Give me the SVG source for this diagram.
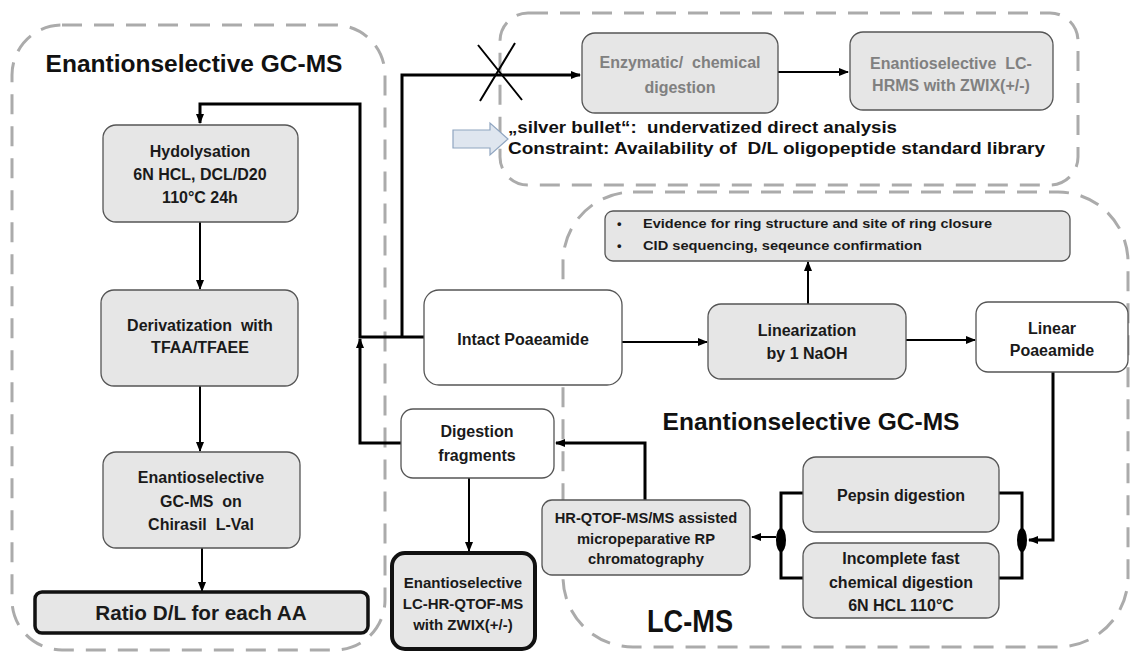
<svg xmlns="http://www.w3.org/2000/svg" width="1130" height="652" viewBox="0 0 1130 652">
<style>
text{font-family:"Liberation Sans",Arial,sans-serif;font-weight:bold;fill:#1a1a1a;text-anchor:middle;white-space:pre}
.cont{fill:none;stroke:#ababab;stroke-width:3;stroke-dasharray:20 12}
.gbox{fill:#e6e6e6;stroke:#555;stroke-width:1.3}
.wbox{fill:#fff;stroke:#555;stroke-width:1.3}
.tbox{fill:#e6e6e6;stroke:#111;stroke-width:4}
.t{font-size:16px}
.gt{font-size:16px;fill:#808080}
.title{font-size:24.5px;fill:#111}
.ln{fill:none;stroke:#000;stroke-width:3}
.lt{fill:none;stroke:#000;stroke-width:2}
.bul{font-size:13px;text-anchor:start}
.sb{font-size:17px;text-anchor:start;fill:#111}
</style>
<defs>
<marker id="ah" markerUnits="userSpaceOnUse" markerWidth="10" markerHeight="10" viewBox="0 0 10 10" refX="9" refY="5" orient="auto">
<path d="M0,1 L10,5 L0,9 Z" fill="#000"/>
</marker>
</defs>

<g id="containers">
<rect id="c-gcms" class="cont" x="12" y="25" width="373" height="625" rx="50"/>
<rect id="c-top" class="cont" x="500" y="13" width="578" height="172" rx="28"/>
<rect id="c-lcms" class="cont" x="563" y="192" width="565" height="455" rx="70"/>
</g>

<g id="labels">
<text class="title" x="194" y="72">Enantionselective GC-MS</text>
<text class="title" x="811" y="430">Enantionselective GC-MS</text>
<text x="690" y="632" style="font-size:32px;fill:#111" textLength="86" lengthAdjust="spacingAndGlyphs">LC-MS</text>
<text class="sb" x="508" y="133" textLength="389" lengthAdjust="spacingAndGlyphs">„silver bullet“:  undervatized direct analysis</text>
<text class="sb" x="508" y="154" textLength="537" lengthAdjust="spacingAndGlyphs">Constraint: Availability of  D/L oligopeptide standard library</text>
<polygon points="453,130 490,130 490,123 508,139 490,155 490,148 453,148" fill="#dfe6ef" stroke="#8fa5c0" stroke-width="1.2"/>
</g>

<g id="connectors">
<path class="ln" d="M424,337 L360,337 L360,104 L200,104 L200,123" marker-end="url(#ah)"/>
<path class="ln" d="M401,443 L360,443 L360,339" marker-end="url(#ah)"/>
<path class="ln" d="M402,337 L402,75 L580,75" marker-end="url(#ah)"/>
<path class="lt" d="M478,45 L522,100 M515,43 L480,101"/>
<path class="lt" d="M778,72 L848,72" marker-end="url(#ah)"/>
<path class="lt" d="M200,222 L200,289" marker-end="url(#ah)"/>
<path class="lt" d="M200,386 L200,451" marker-end="url(#ah)"/>
<path class="lt" d="M202,548 L202,591" marker-end="url(#ah)"/>
<path class="lt" d="M622,342 L707,342" marker-end="url(#ah)"/>
<path class="lt" d="M808,304 L808,262" marker-end="url(#ah)"/>
<path class="lt" d="M906,340 L975,340" marker-end="url(#ah)"/>
<path class="ln" d="M1053,372 L1053,540 L1029,540" marker-end="url(#ah)"/>
<path class="ln" d="M999,493 L1022,493 L1022,578 L999,578"/>
<path class="ln" d="M803,493 L781,493 L781,578 L803,578"/>
<ellipse cx="1022" cy="540" rx="5" ry="12" fill="#000"/>
<ellipse cx="781" cy="540" rx="5" ry="12" fill="#000"/>
<path class="lt" d="M776,537 L752,537" marker-end="url(#ah)"/>
<path class="ln" d="M645,500 L645,443 L556,443" marker-end="url(#ah)"/>
<path class="lt" d="M469,478 L469,551" marker-end="url(#ah)"/>
</g>

<g id="n-hydolysation">
<rect class="gbox" x="103" y="125" width="195" height="97" rx="13"/>
<text class="t" x="200" y="157">Hydolysation</text>
<text class="t" x="200" y="180">6N HCL, DCL/D20</text>
<text class="t" x="200" y="203">110°C 24h</text>
</g>
<g id="n-derivatization">
<rect class="gbox" x="101" y="290" width="197" height="96" rx="13"/>
<text class="t" x="200" y="331">Derivatization  with</text>
<text class="t" x="200" y="353">TFAA/TFAEE</text>
</g>
<g id="n-gcms-chirasil">
<rect class="gbox" x="103" y="452" width="197" height="96" rx="13"/>
<text class="t" x="201" y="483">Enantioselective</text>
<text class="t" x="201" y="507">GC-MS  on</text>
<text class="t" x="201" y="530">Chirasil  L-Val</text>
</g>
<g id="n-ratio">
<rect class="gbox" x="35" y="592" width="333" height="41" rx="7" style="stroke:#111;stroke-width:3.5"/>
<text x="201" y="620" style="font-size:20.7px">Ratio D/L for each AA</text>
</g>
<g id="n-enzymatic">
<rect class="gbox" x="582" y="33" width="196" height="80" rx="13"/>
<text class="gt" x="680" y="68">Enzymatic/  chemical</text>
<text class="gt" x="680" y="93">digestion</text>
</g>
<g id="n-lchrms">
<rect class="gbox" x="850" y="32" width="203" height="78" rx="13"/>
<text class="gt" x="951" y="69">Enantioselective  LC-</text>
<text class="gt" x="951" y="91">HRMS with ZWIX(+/-)</text>
</g>
<g id="n-evidence">
<rect class="gbox" x="605" y="211" width="465" height="50" rx="8"/>
<text class="bul" x="617" y="228">•</text>
<text class="bul" x="643" y="228" textLength="349" lengthAdjust="spacingAndGlyphs">Evidence for ring structure and site of ring closure</text>
<text class="bul" x="617" y="250">•</text>
<text class="bul" x="643" y="250" textLength="279" lengthAdjust="spacingAndGlyphs">CID sequencing, seqeunce confirmation</text>
</g>
<g id="n-intact">
<rect class="wbox" x="424" y="290" width="198" height="95" rx="15"/>
<text class="t" x="523" y="345">Intact Poaeamide</text>
</g>
<g id="n-linearization">
<rect class="gbox" x="708" y="304" width="198" height="75" rx="13"/>
<text class="t" x="807" y="336">Linearization</text>
<text class="t" x="807" y="359">by 1 NaOH</text>
</g>
<g id="n-linear">
<rect class="wbox" x="976" y="302" width="152" height="70" rx="12"/>
<text class="t" x="1052" y="334">Linear</text>
<text class="t" x="1052" y="356">Poaeamide</text>
</g>
<g id="n-pepsin">
<rect class="gbox" x="803" y="457" width="196" height="75" rx="13"/>
<text class="t" x="901" y="501">Pepsin digestion</text>
</g>
<g id="n-incomplete">
<rect class="gbox" x="803" y="543" width="196" height="75" rx="13"/>
<text class="t" x="901" y="564">Incomplete fast</text>
<text class="t" x="901" y="588">chemical digestion</text>
<text class="t" x="901" y="611">6N HCL 110°C</text>
</g>
<g id="n-hrqtof">
<rect class="gbox" x="542" y="500" width="208" height="75" rx="10"/>
<text x="646" y="523" style="font-size:14.7px">HR-QTOF-MS/MS assisted</text>
<text x="646" y="544" style="font-size:14.7px">micropeparative RP</text>
<text x="646" y="564" style="font-size:14.7px">chromatography</text>
</g>
<g id="n-fragments">
<rect class="wbox" x="401" y="409" width="153" height="69" rx="12"/>
<text class="t" x="477" y="437">Digestion</text>
<text class="t" x="477" y="461">fragments</text>
</g>
<g id="n-lcqtof">
<rect class="tbox" x="392" y="553" width="143" height="96" rx="13"/>
<text x="463" y="588" style="font-size:15px">Enantioselective</text>
<text x="463" y="609" style="font-size:15px">LC-HR-QTOF-MS</text>
<text x="463" y="630" style="font-size:15px">with ZWIX(+/-)</text>
</g>
</svg>
